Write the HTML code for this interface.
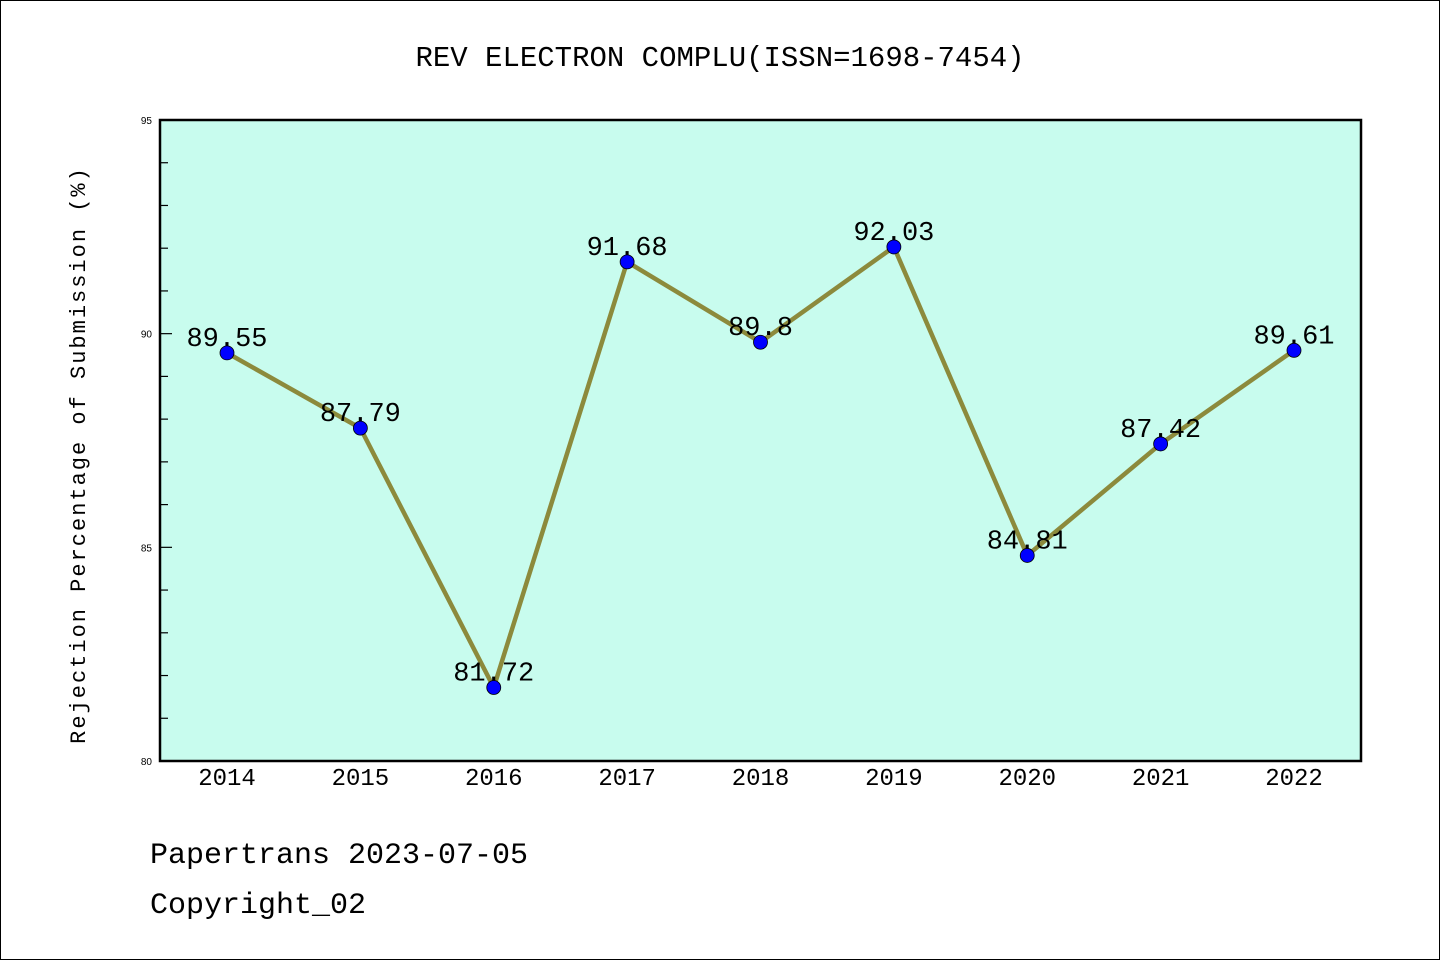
<!DOCTYPE html>
<html><head><meta charset="utf-8"><style>
body{margin:0;background:#fff;}
svg{display:block;font-family:"Liberation Mono","WenQuanYi Zen Hei",monospace;}
</style></head><body>
<svg width="1440" height="960">
<rect x="0.5" y="0.5" width="1439" height="959" fill="#fff" stroke="#000"/>
<text x="720" y="66" font-size="29" text-anchor="middle">REV ELECTRON COMPLU(ISSN=1698-7454)</text>
<rect x="160" y="120" width="1201" height="641" fill="#c8fcee" stroke="#000" stroke-width="2.5"/>
<g id="yaxis"></g><g id="xaxis"></g><g id="series"></g>
<text transform="translate(85,455) rotate(-90)" font-size="22" text-anchor="middle" letter-spacing="2">Rejection Percentage of Submission (%)</text>
<text x="150" y="863" font-size="30">Papertrans 2023-07-05</text>
<text x="150" y="913" font-size="30">Copyright_02</text>
</svg>
<script>
const years=["2014","2015","2016","2017","2018","2019","2020","2021","2022"];
const values=[89.55,87.79,81.72,91.68,89.8,92.03,84.81,87.42,89.61];
const valueLabels=["89.55","87.79","81.72","91.68","89.8","92.03","84.81","87.42","89.61"];
const yTicks=[80,85,90,95];
const NS="http://www.w3.org/2000/svg";
function xs(i){return 227+i*(1294-227)/(years.length-1);}
function ys(v){return 761-(v-80)*(641/15);}
function mk(t,a,p){const e=document.createElementNS(NS,t);for(const k in a)e.setAttribute(k,a[k]);p.appendChild(e);return e;}
const ya=document.getElementById('yaxis');
for(let v=80;v<=95;v++){
 const l=mk('line',{x1:160,x2:160+(v%5===0?12:8),y1:ys(v),y2:ys(v),stroke:'#000','stroke-width':1.2},ya);
 
 
}
yTicks.forEach(v=>{
 const t=mk('text',{x:152,y:ys(v)+4,'font-size':10,'text-anchor':'end','font-family':'Liberation Sans, sans-serif'},ya);t.textContent=v;
 
 
});
const xa=document.getElementById('xaxis');
years.forEach((y,i)=>{
 const t=mk('text',{x:xs(i),y:785,'font-size':24,'text-anchor':'middle'},xa);t.textContent=y;
 
 
});
const s=document.getElementById('series');
const pl=mk('polyline',{points:values.map((v,i)=>xs(i)+','+ys(v)).join(' '),fill:'none',stroke:'#8c8a3c','stroke-width':4.5},s);


values.forEach((v,i)=>{
 const c=mk('circle',{cx:xs(i),cy:ys(v),r:7,fill:'#0000ff',stroke:'#000','stroke-width':0.8},s);
 
 
 const t=mk('text',{x:xs(i),y:ys(v)-7,'font-size':27,'text-anchor':'middle'},s);t.textContent=valueLabels[i];
 
 
});
</script>
</body></html>
